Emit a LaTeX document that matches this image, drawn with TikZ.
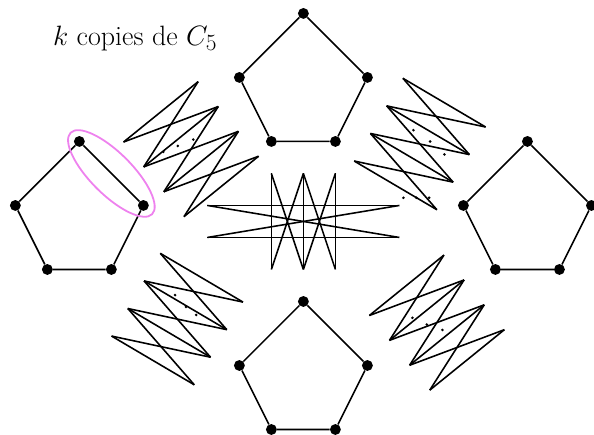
\documentclass[tikz,border=0pt]{standalone}
\usepackage{tikz}
\definecolor{rose}{RGB}{238,130,238}

% faisceau d'aretes entre deux rangees de points (|i-j| <= 1)
\newcommand{\jointure}[5]{% nom, centre, angle, nombre, demi-ecart
  \begin{scope}[shift={#2}, rotate=#3]
    \foreach \i in {1,...,#4} {
      \coordinate (#1a\i) at ({\i-(#4+1)/2}, #5);
      \coordinate (#1b\i) at ({\i-(#4+1)/2}, -#5);
    }
  \end{scope}
  \foreach \i in {1,...,#4}
    \draw[lien] (#1a\i) -- (#1b\i);
  \foreach \i [remember=\i as \j (initially 1)] in {2,...,#4} {
    \draw[lien] (#1a\j) -- (#1b\i);
    \draw[lien] (#1a\i) -- (#1b\j);
  }
}

\begin{document}
\begin{tikzpicture}[
  sommet/.style={circle, fill=black, inner sep=0pt, minimum size=0.34cm},
  arete/.style={line width=1.4pt},
  lien/.style={line width=1.4pt},
  surligne/.style={draw=rose, line width=1.6pt},
]
\useasboundingbox (-9.48,-0.15) rectangle (9.08,13.42);

\node[font=\Huge, anchor=base] (titre) at (-5.26,12.01) {$k$ copies de $C_5$};

% ---- les jointures ----
\jointure{hg}{(-3.51,8.76)}{-51}{4}{1.5}
\jointure{hd}{(3.64,8.92)}{-120.5}{4}{1.5}
\jointure{bg}{(-3.94,3.45)}{-120.5}{4}{1.5}
\jointure{bd}{(4.17,3.34)}{-51}{4}{1.5}
\jointure{mv}{(0,6.5)}{0}{3}{1.5}
\jointure{mh}{(0,6.5)}{90}{2}{3}

% points de suspension
\foreach \pt in {(-4.375,8.675),(-3.925,8.86),(-3.44,9.06),
                 (3.4375,9.353),(3.959,9.0),(4.406,8.594),
                 (3.125,7.24),(3.53,7.24),(3.928,7.24),
                 (-4.01,4.2),(-3.67,3.83),(-3.35,3.58),
                 (3.406,3.49),(3.856,3.28),(4.344,3.11)}
  \fill \pt circle (0.045);

% ---- les copies de C5 ----
\foreach \p/\cx/\cy in {h/0/13, g/-7/9, d/7/9, b/0/4} {
  \node[sommet] (\p1) at (\cx,\cy) {};
  \node[sommet] (\p2) at (\cx+2,\cy-2) {};
  \node[sommet] (\p3) at (\cx+1,\cy-4) {};
  \node[sommet] (\p4) at (\cx-1,\cy-4) {};
  \node[sommet] (\p5) at (\cx-2,\cy-2) {};
  \draw[arete] (\p1) -- (\p2) -- (\p3) -- (\p4) -- (\p5) -- (\p1);
}

\draw[surligne, rotate around={-45:(-6,8)}] (-6,8) ellipse (1.8 and 0.65);

\end{tikzpicture}
\end{document}
